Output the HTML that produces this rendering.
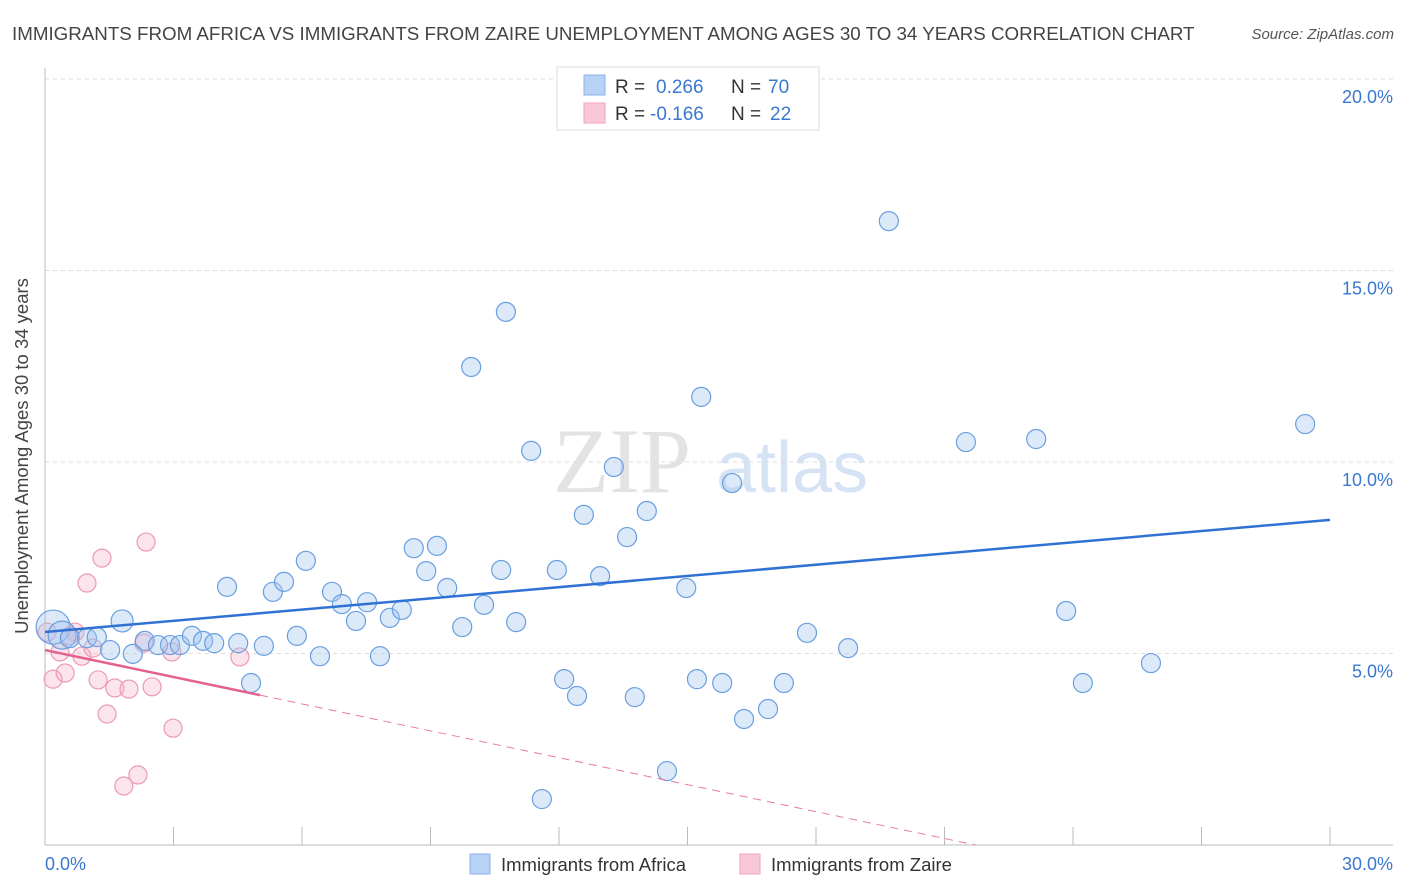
<!DOCTYPE html>
<html><head><meta charset="utf-8"><style>
body{margin:0;background:#fff;font-family:"Liberation Sans",sans-serif}
svg{display:block}
</style></head><body>
<svg id="chart" width="1406" height="892" xmlns="http://www.w3.org/2000/svg">
<text x="12" y="40" font-size="18.75" fill="#444">IMMIGRANTS FROM AFRICA VS IMMIGRANTS FROM ZAIRE UNEMPLOYMENT AMONG AGES 30 TO 34 YEARS CORRELATION CHART</text>
<text x="1394" y="39" font-size="15" fill="#555" font-style="italic" text-anchor="end">Source: ZipAtlas.com</text>
<g>
<text x="553" y="492" font-size="92" fill="#e3e3e3" font-family="Liberation Serif">ZIP</text>
<text x="716" y="492" font-size="72" fill="#d6e3f4">atlas</text>
</g>
<g id="grid"></g>
<g id="axes"></g>
<g id="pts"></g>
<g id="trends"></g>
<text x="28" y="456" font-size="18.5" fill="#444" text-anchor="middle" transform="rotate(-90 28 456)">Unemployment Among Ages 30 to 34 years</text>
<g>
<rect x="557" y="67" width="262" height="63" fill="#fff" stroke="#ddd"/>
<rect x="584" y="75" width="21" height="20" fill="#b8d2f5" stroke="#8ab2ea"/>
<rect x="584" y="103" width="21" height="20" fill="#f9c8d6" stroke="#eea4bb"/>
<text font-size="19" fill="#333"><tspan x="615" y="93">R = </tspan><tspan x="656" fill="#3a78d0">0.266</tspan><tspan x="731">N = </tspan><tspan x="768" fill="#3a78d0">70</tspan></text>
<text font-size="19" fill="#333"><tspan x="615" y="120">R = </tspan><tspan x="650" fill="#3a78d0">-0.166</tspan><tspan x="731">N = </tspan><tspan x="770" fill="#3a78d0">22</tspan></text>
</g>
<g>
<rect x="470" y="854" width="20" height="20" fill="#b8d2f5" stroke="#8ab2ea"/>
<text x="501" y="871" font-size="18.5" fill="#333">Immigrants from Africa</text>
<rect x="740" y="854" width="20" height="20" fill="#f9c8d6" stroke="#eea4bb"/>
<text x="771" y="871" font-size="18.5" fill="#333">Immigrants from Zaire</text>
</g>
</svg>
<script>
const yTicks=[5,10,15,20];
const yTickLabels=["5.0%","10.0%","15.0%","20.0%"];
const xTicks=[0,3,6,9,12,15,18,21,24,27,30];
const africaX=[0.19,0.40,0.58,0.98,1.21,1.80,1.52,2.05,2.33,2.64,2.92,3.15,3.43,3.69,3.95,4.25,4.51,4.81,5.11,5.32,5.58,5.88,6.09,6.42,6.70,6.93,7.26,7.52,7.82,8.05,8.33,8.61,8.90,9.15,9.39,9.74,9.95,10.25,10.65,10.76,11.00,11.35,11.60,11.95,12.12,12.42,12.58,12.96,13.28,13.59,13.77,14.05,14.52,14.97,15.22,15.32,15.81,16.04,16.32,16.88,17.25,17.79,18.75,19.70,21.50,23.14,23.84,24.23,25.82,29.42];
const africaY=[5.69,5.48,5.40,5.40,5.43,5.85,5.09,4.99,5.33,5.22,5.22,5.22,5.46,5.33,5.27,6.74,5.27,4.23,5.20,6.61,6.87,5.46,7.42,4.93,6.61,6.29,5.85,6.34,4.93,5.93,6.14,7.75,7.15,7.81,6.71,5.69,12.48,6.27,7.18,13.92,5.82,10.29,1.20,7.18,4.33,3.89,8.62,7.02,9.87,8.04,3.86,8.72,1.93,6.71,4.33,11.70,4.23,9.45,3.29,3.55,4.23,5.54,5.14,16.29,10.52,10.60,6.11,4.23,4.75,10.99];
const zaireX=[0.05,0.19,0.35,0.47,0.70,0.86,0.98,1.24,1.33,1.45,1.63,1.96,2.17,1.84,2.36,2.50,2.31,2.96,2.99,4.55,1.12,0.58];
const zaireY=[5.56,4.33,5.04,4.49,5.56,4.93,6.84,4.31,7.49,3.42,4.10,4.07,1.83,1.54,7.91,4.13,5.27,5.04,3.05,4.91,5.14,5.46];
const africaTrend=[5.56,8.49];
const zaireTrend=[5.09,-1.94];
const zaireSolidEnd=5.02;
const NS='http://www.w3.org/2000/svg';
const X0=45,X1=1330,Y0=845,PY=38.3;
const sx=v=>X0+(v/30)*(X1-X0);
const sy=v=>Y0-v*PY;
function mk(tag,attrs,parent){const e=document.createElementNS(NS,tag);for(const k in attrs)e.setAttribute(k,attrs[k]);parent.appendChild(e);return e;}
const grid=document.getElementById('grid'),axes=document.getElementById('axes'),pts=document.getElementById('pts'),tr=document.getElementById('trends');
yTicks.forEach((t,i)=>{
 const l=mk('line',{x1:X0,x2:1393,y1:sy(t),y2:sy(t),stroke:'#ddd','stroke-dasharray':'4,4'},grid);
 
 
 const tx=mk('text',{x:1393,y:sy(t)+24,'font-size':18,fill:'#3a78d0','text-anchor':'end'},axes);
 tx.textContent=yTickLabels[i];
 
 
});
let a=mk('line',{x1:X0,x2:X0,y1:68,y2:Y0,stroke:'#bbb'},axes);


a=mk('line',{x1:X0,x2:1393,y1:Y0,y2:Y0,stroke:'#bbb'},axes);


xTicks.forEach(t=>{
 const l=mk('line',{x1:sx(t),x2:sx(t),y1:Y0-18,y2:Y0,stroke:'#bbb'},axes);
 
 
});
let t1=mk('text',{x:45,y:870,'font-size':18,fill:'#3a78d0'},axes);t1.textContent='0.0%';


t1=mk('text',{x:1393,y:870,'font-size':18,fill:'#3a78d0','text-anchor':'end'},axes);t1.textContent='30.0%';


zaireX.forEach((x,i)=>{
 const c=mk('circle',{cx:sx(x),cy:sy(zaireY[i]),r:9,fill:'rgba(246,178,200,0.35)',stroke:'#eb9ab3','stroke-width':1.2},pts);
 
 
});
africaX.forEach((x,i)=>{
 const r=i===0?17:i===1?14:i===5?11:9.5;
 const c=mk('circle',{cx:sx(x),cy:sy(africaY[i]),r:r,fill:'rgba(160,196,240,0.38)',stroke:'#6a9fe0','stroke-width':1.2},pts);
 
 
});
let l=mk('line',{x1:sx(0),y1:sy(africaTrend[0]),x2:sx(30),y2:sy(africaTrend[1]),stroke:'#2f72d4','stroke-width':2.5},tr);


const zy=x=>zaireTrend[0]+(zaireTrend[1]-zaireTrend[0])*x/30;
const zeroX=zaireTrend[0]/(zaireTrend[0]-zaireTrend[1])*30;
l=mk('line',{x1:sx(zaireSolidEnd),y1:sy(zy(zaireSolidEnd)),x2:sx(zeroX),y2:sy(0),stroke:'#e87a9f','stroke-width':1,'stroke-dasharray':'8,6'},tr);


l=mk('line',{x1:sx(0),y1:sy(zy(0)),x2:sx(zaireSolidEnd),y2:sy(zy(zaireSolidEnd)),stroke:'#e4628f','stroke-width':2.5},tr);


</script>
</body></html>
